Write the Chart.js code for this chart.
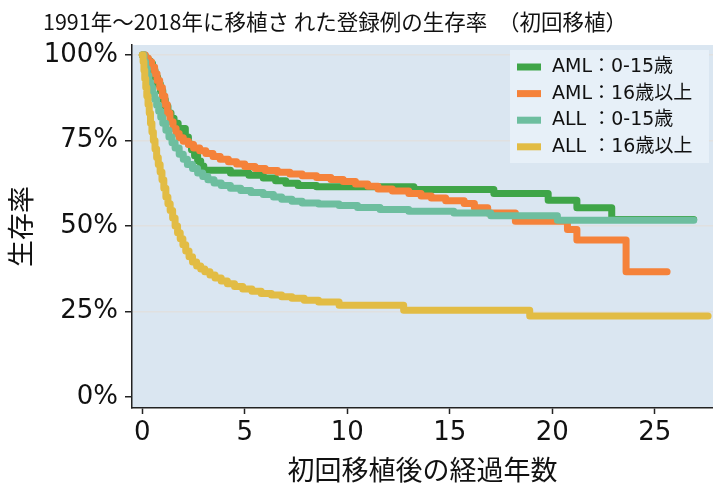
<!DOCTYPE html>
<html lang="ja">
<head>
<meta charset="utf-8">
<title>生存率</title>
<script src="https://cdn.jsdelivr.net/npm/chart.js"></script>
<style>
  html, body { margin: 0; padding: 0; background: #fff; }
  #wrap { width: 713px; height: 486px; }
</style>
</head>
<body>
<div id="wrap"><canvas id="grafica" width="713" height="486"></canvas></div>
<script>
const titulo = '1991年～2018年に移植さ れた登録例の生存率　（初回移植）';
const xTicks = [0, 5, 10, 15, 20, 25];
const yTicks = [0, 25, 50, 75, 100];

const seriesNames = ['AML：0-15歳', 'AML：16歳以上', 'ALL ：0-15歳', 'ALL ：16歳以上'];
const seriesColors = ['#3fa548', '#f5823a', '#6dbe9f', '#e2bc44'];

// AML 0-15
const amlChildT = [0, 0.12, 0.25, 0.38, 0.5, 0.62, 0.75, 0.88, 1.0, 1.12, 1.25, 1.4, 1.55, 1.75, 2.1, 2.25, 2.4, 2.55, 2.7, 2.85, 3.0, 4.3, 5.2, 5.9, 6.5, 7.0, 7.6, 8.5, 13.25, 17.15, 19.8, 21.2, 22.9, 26.9];
const amlChildS = [100, 99.2, 98.3, 97.5, 95.5, 93.5, 91.5, 89.5, 87, 85, 83, 81.5, 80, 78.5, 76, 74, 72.3, 70.5, 69, 67.5, 66.3, 65.5, 64.8, 64, 63.2, 62.5, 61.8, 61.5, 60.7, 59.5, 57.5, 55.3, 51.9, 51.9];

// AML 16+
const amlAdultT = [0, 0.15, 0.3, 0.45, 0.6, 0.72, 0.85, 0.98, 1.1, 1.22, 1.35, 1.5, 1.65, 1.8, 2.0, 2.25, 2.5, 2.8, 3.1, 3.45, 3.8, 4.2, 4.6, 5.0, 5.5, 6.0, 6.6, 7.2, 7.8, 8.5, 9.2, 9.8, 10.4, 11.0, 11.5, 12.2, 13.0, 13.6, 14.1, 14.8, 15.7, 16.2, 16.85, 18.2, 20.74, 21.2, 23.6, 25.6];
const amlAdultS = [100, 99, 98, 96.5, 94.5, 92.5, 90.5, 88, 85.5, 83, 80.5, 78.5, 77, 75.8, 74.8, 73.8, 72.8, 72, 71.2, 70.3, 69.5, 68.8, 68.1, 67.4, 66.8, 66.2, 65.7, 65.2, 64.7, 64.2, 63.6, 63, 62.3, 61.6, 60.8, 60.2, 59.5, 58.8, 58.2, 57.4, 56.6, 55.3, 53.8, 51.4, 49.0, 45.9, 36.6, 36.6];

// ALL 0-15
const allChildT = [0, 0.08, 0.16, 0.24, 0.32, 0.4, 0.5, 0.6, 0.7, 0.8, 0.9, 1.0, 1.15, 1.3, 1.45, 1.6, 1.8, 2.0, 2.2, 2.45, 2.7, 2.95, 3.2, 3.5, 3.85, 4.3, 4.8, 5.3, 5.9, 6.4, 6.8, 7.3, 7.8, 8.6, 9.6, 10.5, 11.6, 13.0, 15.2, 17.0, 20.25, 26.9];
const allChildS = [100, 98, 96, 94, 92, 90.5, 88.5, 87, 85.3, 83.5, 81.8, 80, 78, 76, 74.3, 72.8, 71, 69.5, 68, 66.8, 65.5, 64.5, 63.5, 62.6, 61.8, 61, 60.4, 59.8, 59.2, 58.5, 57.8, 57.2, 56.7, 56.4, 56, 55.4, 54.8, 54.3, 53.8, 53, 51.7, 51.7];

// ALL 16+
const allAdultT = [0, 0.04, 0.08, 0.12, 0.17, 0.22, 0.28, 0.34, 0.4, 0.47, 0.54, 0.62, 0.7, 0.78, 0.87, 0.96, 1.05, 1.15, 1.25, 1.36, 1.48, 1.6, 1.72, 1.85, 1.98, 2.12, 2.28, 2.45, 2.65, 2.85, 3.05, 3.3, 3.55, 3.85, 4.15, 4.5, 4.9, 5.35, 5.8, 6.3, 6.8, 7.3, 7.9, 8.6, 9.6, 12.75, 18.9, 27.6];
const allAdultS = [100, 98, 95.5, 93, 90.5, 88, 85.5, 83, 80, 77.5, 75, 72.5, 70, 68, 65.8, 63.5, 61, 58.5, 56.5, 54.5, 52.3, 50, 48, 46.3, 44.5, 42.7, 41, 39.5, 38.3, 37.4, 36.6, 35.7, 34.8, 33.9, 33.1, 32.3, 31.6, 30.9, 30.3, 29.8, 29.3, 28.9, 28.3, 27.8, 26.8, 25.4, 23.7, 23.7];

const seriesT = [amlChildT, amlAdultT, allChildT, allAdultT];
const seriesS = [amlChildS, amlAdultS, allChildS, allAdultS];

const fuente = "'DejaVu Sans', 'Noto Sans CJK JP', sans-serif";

const fondoPlot = {
  id: 'fondoPlot',
  beforeDraw(chart) {
    const {ctx, chartArea: a} = chart;
    ctx.save();
    ctx.fillStyle = '#dae6f1';
    ctx.fillRect(a.left, a.top, a.right - a.left, a.bottom - a.top);
    ctx.restore();
  }
};

const tituloPlugin = {
  id: 'tituloPlugin',
  afterDraw(chart) {
    const ctx = chart.ctx;
    ctx.save();
    ctx.fillStyle = '#111';
    ctx.font = "21.5px 'Noto Sans CJK JP', sans-serif";
    ctx.textBaseline = 'middle';
    ctx.textAlign = 'left';
    ctx.fillText(titulo, 43, 22);
    ctx.restore();
  }
};

const leyenda = {
  id: 'leyenda',
  afterDatasetsDraw(chart) {
    const {ctx, chartArea: a} = chart;
    const x0 = a.right - 203, y0 = a.top + 5;
    ctx.save();
    ctx.fillStyle = '#e7f0f8';
    ctx.fillRect(x0, y0, 199, 113);
    ctx.font = '19px ' + fuente;
    ctx.textBaseline = 'middle';
    ctx.textAlign = 'left';
    chart.data.datasets.forEach((ds, i) => {
      const cy = y0 + 17 + i * 26.6;
      ctx.fillStyle = ds.borderColor;
      ctx.fillRect(x0 + 7, cy - 3.5, 24, 7);
      ctx.fillStyle = '#111';
      ctx.fillText(ds.label, x0 + 42, cy);
    });
    ctx.restore();
  }
};

new Chart(document.getElementById('grafica'), {
  type: 'line',
  data: {
    datasets: seriesNames.map((name, i) => ({
      label: name,
      data: seriesT[i].map((t, j) => ({x: t, y: seriesS[i][j]})),
      borderColor: seriesColors[i],
      backgroundColor: seriesColors[i],
      borderWidth: 7,
      borderCapStyle: 'round',
      borderJoinStyle: 'round',
      stepped: true,
      pointRadius: 0,
      fill: false,
      order: 4 - i
    }))
  },
  options: {
    responsive: false,
    animation: false,
    devicePixelRatio: 1,
    layout: { padding: { top: 45, left: 0, right: 0, bottom: 0 } },
    plugins: {
      legend: { display: false },
      tooltip: { enabled: false },
      title: { display: false }
    },
    scales: {
      x: {
        type: 'linear',
        min: -0.502,
        max: 27.84,
        afterFit(scale) { scale.height = 78; },
        afterBuildTicks(scale) { scale.ticks = xTicks.map(v => ({value: v})); },
        grid: { drawOnChartArea: false, drawTicks: true, tickLength: 6, tickColor: '#222', tickWidth: 1.5 },
        border: { display: true, color: '#222', width: 1.5 },
        ticks: { color: '#111', padding: 4, font: { family: fuente, size: 26 }, maxRotation: 0 },
        title: {
          display: true,
          text: '初回移植後の経過年数',
          color: '#111',
          font: { family: fuente, size: 27, lineHeight: 1 },
          padding: { top: 0, bottom: 0 }
        }
      },
      y: {
        type: 'linear',
        min: -3.2,
        max: 102.9,
        afterFit(scale) { scale.width = 132; },
        afterBuildTicks(scale) { scale.ticks = yTicks.map(v => ({value: v})); },
        grid: {
          color: ctx => (ctx.tick && ctx.tick.value === 0) ? 'rgba(0,0,0,0)' : '#e0e0e0',
          lineWidth: 1.5,
          drawTicks: true,
          tickLength: 7,
          tickColor: '#222',
          tickWidth: 1.5
        },
        border: { display: true, color: '#222', width: 1.5 },
        ticks: {
          color: '#111',
          padding: 7,
          font: { family: fuente, size: 26 },
          callback: v => v + '%'
        },
        title: {
          display: true,
          text: '生存率',
          color: '#111',
          font: { family: fuente, size: 27, lineHeight: 1 },
          padding: { top: 10, bottom: 0 }
        }
      }
    }
  },
  plugins: [fondoPlot, leyenda, tituloPlugin]
});
</script>
</body>
</html>
